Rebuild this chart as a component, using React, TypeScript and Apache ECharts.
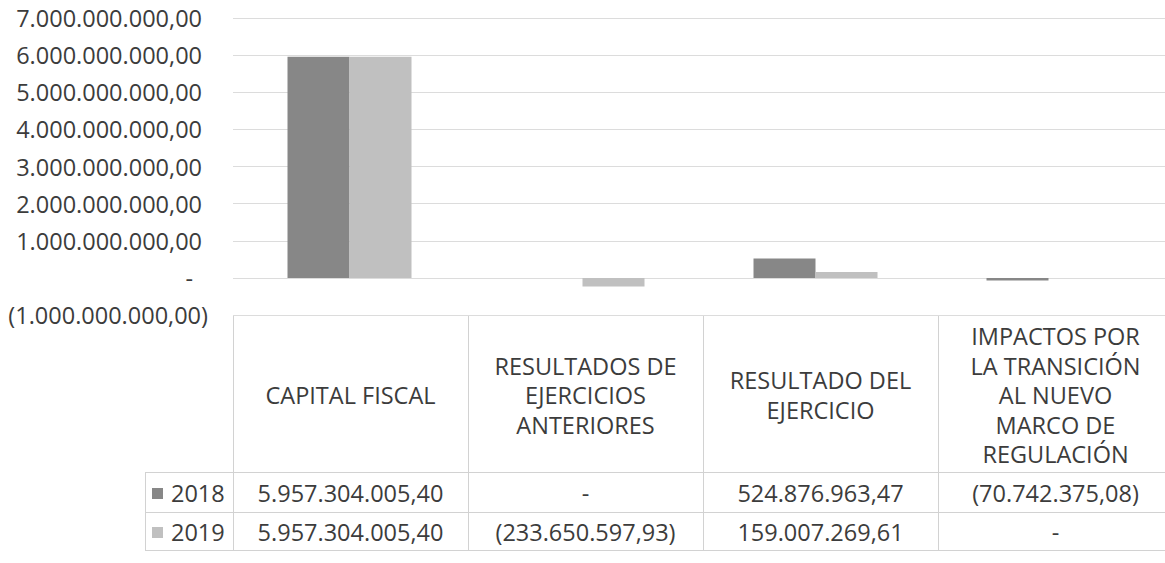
import React, { useEffect, useRef } from "react";
import * as echarts from "echarts";

const categories = [
  "CAPITAL FISCAL",
  "RESULTADOS DE\nEJERCICIOS\nANTERIORES",
  "RESULTADO DEL\nEJERCICIO",
  "IMPACTOS POR\nLA TRANSICIÓN\nAL NUEVO\nMARCO DE\nREGULACIÓN",
];
const seriesNames = ["2018", "2019"];
const values2018 = [5957304005.4, 0, 524876963.47, -70742375.08];
const values2019 = [5957304005.4, -233650597.93, 159007269.61, 0];
const yMin = -1000000000;
const yMax = 7000000000;
const yInterval = 1000000000;

const colors = ["#878787", "#c0c0c0"];
const textColor = "#3c3c3c";
const borderColor = "#d2d2d2";
const FONT = "'Open Sans', 'Noto Sans', sans-serif";

function fmt(v: number): string {
  if (v === 0) return "-";
  const abs = Math.abs(v).toFixed(2);
  const [i, d] = abs.split(".");
  const ii = i.replace(/\B(?=(\d{3})+(?!\d))/g, ".");
  const s = `${ii},${d}`;
  return v < 0 ? `(${s})` : s;
}

export default function App() {
  const ref = useRef<HTMLDivElement>(null);
  useEffect(() => {
    if (!ref.current) return;
    const chart = echarts.init(ref.current, undefined, { renderer: "svg" });

    const gridLeft = 233;
    const gridTop = 18;
    const gridWidth = 940;
    const gridHeight = 297;
    const catW = gridWidth / categories.length;
    const tableTop = gridTop + gridHeight; // 315
    const row1Top = 472;
    const row2Top = 512;
    const tableBottom = 550;
    const legendLeft = 145;
    const rightEdge = gridLeft + gridWidth;
    const tableFont = 23.5;

    const graphics: any[] = [];
    const line = (x1: number, y1: number, x2: number, y2: number) =>
      graphics.push({
        type: "line",
        silent: true,
        shape: { x1, y1, x2, y2 },
        style: { stroke: borderColor, lineWidth: 1 },
      });
    // horizontal borders
    line(gridLeft, tableTop + 0.5, rightEdge, tableTop + 0.5);
    line(legendLeft, row1Top + 0.5, rightEdge, row1Top + 0.5);
    line(legendLeft, row2Top + 0.5, rightEdge, row2Top + 0.5);
    line(legendLeft, tableBottom + 0.5, rightEdge, tableBottom + 0.5);
    // vertical borders
    line(legendLeft + 0.5, row1Top, legendLeft + 0.5, tableBottom);
    for (let i = 0; i <= categories.length; i++) {
      const x = Math.round(gridLeft + i * catW) + 0.5;
      line(x, tableTop, x, tableBottom);
    }
    const txt = (
      text: string,
      x: number,
      y: number,
      size: number,
      align: string,
      lineHeight?: number
    ) =>
      graphics.push({
        type: "text",
        silent: true,
        x,
        y,
        style: {
          text,
          fill: textColor,
          font: `${size}px ${FONT}`,
          fontSize: size,
          fontFamily: FONT,
          align,
          verticalAlign: "middle",
          textAlign: align,
          textVerticalAlign: "middle",
          lineHeight: lineHeight || size * 1.3,
        },
      });
    const headerMid = 395;
    categories.forEach((c, i) => {
      txt(c, gridLeft + (i + 0.5) * catW, headerMid, tableFont, "center", 29.5);
    });
    const rows = [values2018, values2019];
    const rowMids = [(row1Top + row2Top) / 2 + 1, (row2Top + tableBottom) / 2 + 1];
    rows.forEach((vals, r) => {
      graphics.push({
        type: "rect",
        silent: true,
        shape: { x: 152, y: rowMids[r] - 5, width: 11, height: 11 },
        style: { fill: colors[r] },
      });
      txt(seriesNames[r], 171, rowMids[r], tableFont, "left");
      vals.forEach((v, i) => {
        txt(fmt(v), gridLeft + (i + 0.5) * catW, rowMids[r], tableFont, "center");
      });
    });

    const labelStyle = { fontSize: 23.5, fontFamily: FONT, color: textColor };
    chart.setOption({
      animation: false,
      backgroundColor: "#ffffff",
      textStyle: { fontFamily: FONT },
      grid: { left: gridLeft, top: gridTop, width: gridWidth, height: gridHeight, containLabel: false },
      xAxis: {
        type: "category",
        data: categories,
        axisLine: { show: false },
        axisTick: { show: false },
        axisLabel: { show: false },
        splitLine: { show: false },
      },
      yAxis: {
        type: "value",
        min: yMin,
        max: yMax,
        interval: yInterval,
        axisLine: { show: false },
        axisTick: { show: false },
        splitLine: { lineStyle: { color: "#dcdcdc", width: 1 } },
        axisLabel: {
          margin: 25,
          ...labelStyle,
          formatter: (v: number) => {
            const s = fmt(v);
            if (v < 0) return `{n|${s}}`;
            if (v === 0) return `{z|${s}}`;
            return `{p|${s}}`;
          },
          rich: {
            n: { ...labelStyle },
            z: { ...labelStyle, padding: [0, 15, 0, 0] },
            p: { ...labelStyle, padding: [0, 6, 0, 0] },
          },
        },
      },
      series: [
        {
          name: seriesNames[0],
          type: "bar",
          data: values2018,
          barWidth: 62,
          barGap: "0%",
          itemStyle: { color: colors[0] },
        },
        {
          name: seriesNames[1],
          type: "bar",
          data: values2019,
          barWidth: 62,
          barGap: "0%",
          itemStyle: { color: colors[1] },
        },
      ],
      graphic: graphics,
    });
    return () => chart.dispose();
  }, []);
  return (
    <div
      ref={ref}
      style={{ position: "fixed", left: 0, top: 0, width: 1165, height: 563, background: "#fff" }}
    />
  );
}
